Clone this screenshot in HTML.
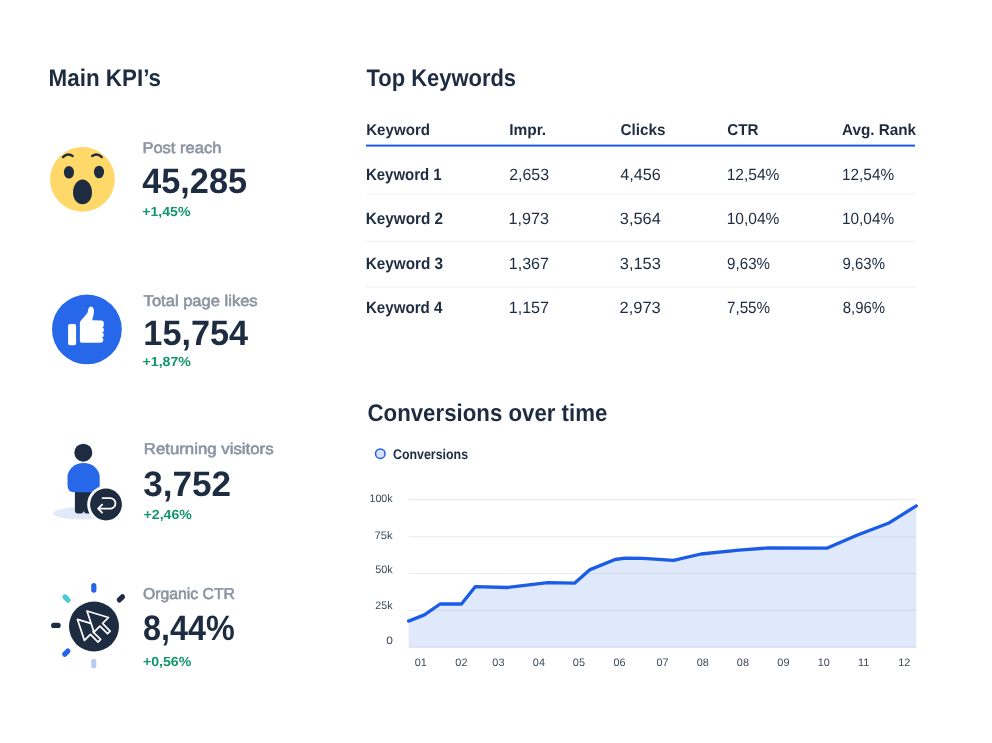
<!DOCTYPE html>
<html lang="en">
<head>
<meta charset="utf-8">
<title>Main KPI's and Top Keywords dashboard</title>
<style>
  html, body { margin: 0; padding: 0; background: #ffffff; }
  body { width: 992px; height: 743px; overflow: hidden; position: relative; }
  svg { display: block; position: absolute; left: 0; top: 0; will-change: transform; }
  text { font-family: "Liberation Sans", Arial, sans-serif; text-rendering: geometricPrecision; }
  .title { fill: #1e2c41; font-weight: 700; }
  .lbl { fill: #8a94a2; stroke: #8a94a2; stroke-width: 0.6px; }
  .big { fill: #1e2c41; font-weight: 700; }
  .grn { fill: #12966a; font-weight: 700; }
  .th { fill: #1e2c41; font-weight: 700; }
  .kw { fill: #1e2c41; font-weight: 700; }
  .td { fill: #1e2c41; }
  .ax { fill: #3e4a5b; font-size: 10.9px; }
  .leg { fill: #1e2c41; font-weight: 700; }

</style>
</head>
<body>
<svg width="992" height="743" viewBox="0 0 992 743">

  <!-- ============ LEFT: MAIN KPIs ============ -->

  <!-- KPI 1: Post reach (wow emoji) -->
  <g>
    <circle cx="82.4" cy="179.4" r="32.4" fill="#fed868"/>
    <path d="M63,157.1 Q67.7,152.6 72.6,156.1" fill="none" stroke="#1e2c41" stroke-width="2.4" stroke-linecap="round"/>
    <path d="M101.8,157.1 Q97.1,152.6 92.2,156.1" fill="none" stroke="#1e2c41" stroke-width="2.4" stroke-linecap="round"/>
    <ellipse cx="68.95" cy="172.2" rx="5.05" ry="6.3" fill="#1e2c41"/>
    <ellipse cx="99.0" cy="172.0" rx="5.05" ry="6.3" fill="#1e2c41"/>
    <path d="M82.5,179.5 C87.6,179.5 92,185.3 92,192.4 C92,199.2 87.8,204.2 82.5,204.2 C77.2,204.2 73,199.2 73,192.4 C73,185.3 77.4,179.5 82.5,179.5 Z" fill="#1e2c41"/>
  </g>

  <!-- KPI 2: Total page likes (thumb) -->
  <g>
    <circle cx="86.9" cy="329.4" r="34.9" fill="#2767ea"/>
    <rect x="68.1" y="323.9" width="8" height="21.4" rx="1.8" fill="#fff"/>
    <path d="M79.9,322.6 Q79.9,321.6 80.6,320.9 L87,313.6 Q87.7,312.6 87.9,311 L88.3,309 Q88.9,306.6 91,306.6 Q93.3,306.7 93.8,309.2 Q94.3,312 93.4,315.5 L92.2,320.3 L101.8,320.6 Q103.7,320.8 103.8,322.8 L103.8,325.4 Q103.9,326.8 102.1,327.2 Q103.9,327.6 103.9,329.4 L103.8,330.8 Q103.8,332.2 102.0,332.6 Q103.7,333 103.7,334.6 L103.6,335.8 Q103.6,337.3 101.9,337.7 Q103.4,338.2 103.4,339.5 L103.2,340.6 Q103.1,342.7 101,342.7 L81.6,342.7 Q79.9,342.7 79.9,341 Z" fill="#fff"/>
  </g>

  <!-- KPI 3: Returning visitors -->
  <g>
    <ellipse cx="83" cy="513.3" rx="30" ry="6.2" fill="#e2e9f9"/>
    <circle cx="83.3" cy="452.7" r="9" fill="#1e2c41"/>
    <path d="M74.9,489 L92,489 L92,510.3 Q92,513.6 88.9,513.6 L86.6,513.6 Q84.5,513.6 83.7,511.2 Q82.9,513.6 80.8,513.6 L78.1,513.6 Q74.9,513.6 74.9,510.3 Z" fill="#1e2c41"/>
    <path d="M67.5,477.5 A16.1,14.4 0 0 1 99.7,477.5 L99.7,485.3 Q99.7,492.3 92.7,492.3 L74.5,492.3 Q67.5,492.3 67.5,485.3 Z" fill="#2767ea"/>
    <circle cx="106" cy="504.5" r="18.8" fill="#fff"/>
    <circle cx="106" cy="504.5" r="15.9" fill="#1e2c41"/>
    <path d="M102.6,498.1 L110.2,498.1 A5.25,5.25 0 0 1 110.2,508.6 L98.1,508.6 M102.1,504.6 L98.1,508.6 L102.1,512.6" fill="none" stroke="#fff" stroke-width="1.8" stroke-linecap="round" stroke-linejoin="round"/>
  </g>

  <!-- KPI 4: Organic CTR -->
  <g>
    <g stroke-width="5.2" stroke-linecap="round" fill="none">
      <line x1="93.80" y1="585.65" x2="93.80" y2="590.05" stroke="#2563eb"/>
      <line x1="119.34" y1="599.96" x2="122.46" y2="596.84" stroke="#1e2c41"/>
      <line x1="64.94" y1="596.94" x2="68.06" y2="600.06" stroke="#4cc9d9"/>
      <line x1="53.70" y1="625.40" x2="58.10" y2="625.40" stroke="#1e2c41"/>
      <line x1="64.74" y1="654.16" x2="67.86" y2="651.04" stroke="#2563eb"/>
      <line x1="93.75" y1="661.40" x2="93.75" y2="665.80" stroke="#b7cdf4"/>
    </g>
    <circle cx="94" cy="626.5" r="25" fill="#1e2c41"/>
    <g fill="#1e2c41" stroke="#fff" stroke-width="1.75" stroke-linejoin="round">
      <path transform="translate(77.5 619.4) rotate(45)" d="M0,0 L19.8,-10.6 L19.8,-2.2 L30.5,-2.2 L30.5,1.5 L19.8,1.5 L19.8,10 Z"/>
      <path transform="translate(87.0 611.0) rotate(45)" d="M0,0 L19.8,-10.6 L19.8,-2.2 L30.5,-2.2 L30.5,1.5 L19.8,1.5 L19.8,10 Z"/>
    </g>
  </g>

  <!-- ============ RIGHT: TOP KEYWORDS ============ -->
  <rect x="366" y="144.6" width="549" height="2" fill="#1a5ce8"/>

  <rect x="366" y="193.7" width="550" height="1" fill="#f0f2f4"/>
  <rect x="366" y="240.8" width="550" height="1" fill="#f0f2f4"/>
  <rect x="366" y="286.6" width="550" height="1" fill="#f0f2f4"/>





  <!-- ============ RIGHT: CONVERSIONS CHART ============ -->
  <circle cx="380.3" cy="453.7" r="4.75" fill="#d5e1f9" stroke="#1f5fe8" stroke-width="1.5"/>

  <defs><clipPath id="fillclip"><path d="M408.6,621.1 L424.4,614.9 L440.1,604 L461.5,604 L475.2,586.7 L507,587.5 L547.7,582.7 L574.8,583.1 L590.1,569.6 L615.1,559.5 L625.2,558.1 L643.3,558.3 L673.5,560.4 L701,554 L738.9,550.2 L768.7,547.9 L826.8,548.2 L857.5,535 L888.3,523.3 L916.3,505.9 L916.3,647.7 L408.6,647.7 Z"/></clipPath></defs>
  <g fill="#eaecee">
    <rect x="408.6" y="499.1" width="507.7" height="1.2"/>
    <rect x="408.6" y="536.2" width="507.7" height="1.2"/>
    <rect x="408.6" y="572.9" width="507.7" height="1.2"/>
    <rect x="408.6" y="609.8" width="507.7" height="1.2"/>
  </g>

  <path d="M408.6,621.1 L424.4,614.9 L440.1,604 L461.5,604 L475.2,586.7 L507,587.5 L547.7,582.7 L574.8,583.1 L590.1,569.6 L615.1,559.5 L625.2,558.1 L643.3,558.3 L673.5,560.4 L701,554 L738.9,550.2 L768.7,547.9 L826.8,548.2 L857.5,535 L888.3,523.3 L916.3,505.9 L916.3,647.7 L408.6,647.7 Z" fill="#e0e9fc"/>
  <g fill="#d3dbe9" clip-path="url(#fillclip)">
    <rect x="408.6" y="536.2" width="507.7" height="1.2"/>
    <rect x="408.6" y="572.9" width="507.7" height="1.2"/>
    <rect x="408.6" y="609.8" width="507.7" height="1.2"/>
    <rect x="408.6" y="646.5" width="507.7" height="1.2"/>
  </g>
  <path d="M408.6,621.1 L424.4,614.9 L440.1,604 L461.5,604 L475.2,586.7 L507,587.5 L547.7,582.7 L574.8,583.1 L590.1,569.6 L615.1,559.5 L625.2,558.1 L643.3,558.3 L673.5,560.4 L701,554 L738.9,550.2 L768.7,547.9 L826.8,548.2 L857.5,535 L888.3,523.3 L916.3,505.9" fill="none" stroke="#1a5ce8" stroke-width="3.3" stroke-linecap="round" stroke-linejoin="round"/>
  <g class="ax" text-anchor="middle">
    <text x="420.7" y="665.8">01</text>
    <text x="461.4" y="665.8">02</text>
    <text x="498.4" y="665.8">03</text>
    <text x="538.9" y="665.8">04</text>
    <text x="578.9" y="665.8">05</text>
    <text x="619.5" y="665.8">06</text>
    <text x="662.5" y="665.8">07</text>
    <text x="702.8" y="665.8">08</text>
    <text x="742.9" y="665.8">08</text>
    <text x="783.4" y="665.8">09</text>
    <text x="823.8" y="665.8">10</text>
    <text x="863.7" y="665.8">11</text>
    <text x="904.2" y="665.8">12</text>
  </g>

  <text id="t1" class="title" x="48.58" y="85.80" font-size="24.0" textLength="112.44" lengthAdjust="spacingAndGlyphs">Main KPI’s</text>
  <text id="t2" class="title" x="366.45" y="86.00" font-size="24.0" textLength="149.65" lengthAdjust="spacingAndGlyphs">Top Keywords</text>
  <text id="t3" class="title" x="367.49" y="420.70" font-size="24.0" textLength="239.88" lengthAdjust="spacingAndGlyphs">Conversions over time</text>
  <text id="l1" class="lbl" x="142.40" y="152.90" font-size="15.6" textLength="79.02" lengthAdjust="spacingAndGlyphs">Post reach</text>
  <text id="l2" class="lbl" x="143.64" y="305.70" font-size="15.6" textLength="114.00" lengthAdjust="spacingAndGlyphs">Total page likes</text>
  <text id="l3" class="lbl" x="143.79" y="454.40" font-size="15.6" textLength="129.77" lengthAdjust="spacingAndGlyphs">Returning visitors</text>
  <text id="l4" class="lbl" x="143.04" y="599.40" font-size="15.6" textLength="91.96" lengthAdjust="spacingAndGlyphs">Organic CTR</text>
  <text id="b1" class="big" x="142.17" y="192.90" font-size="35.3" textLength="104.89" lengthAdjust="spacingAndGlyphs">45,285</text>
  <text id="b2" class="big" x="143.36" y="344.60" font-size="35.3" textLength="104.80" lengthAdjust="spacingAndGlyphs">15,754</text>
  <text id="b3" class="big" x="143.21" y="496.20" font-size="35.3" textLength="87.89" lengthAdjust="spacingAndGlyphs">3,752</text>
  <text id="b4" class="big" x="143.09" y="640.20" font-size="35.3" textLength="91.77" lengthAdjust="spacingAndGlyphs">8,44%</text>
  <text id="g1" class="grn" x="142.32" y="215.50" font-size="13.2" textLength="48.15" lengthAdjust="spacingAndGlyphs">+1,45%</text>
  <text id="g2" class="grn" x="142.59" y="366.30" font-size="13.2" textLength="48.33" lengthAdjust="spacingAndGlyphs">+1,87%</text>
  <text id="g3" class="grn" x="143.64" y="519.40" font-size="13.2" textLength="48.18" lengthAdjust="spacingAndGlyphs">+2,46%</text>
  <text id="g4" class="grn" x="142.93" y="666.20" font-size="13.2" textLength="48.28" lengthAdjust="spacingAndGlyphs">+0,56%</text>
  <text id="h1" class="th" x="366.19" y="135.20" font-size="15.8" textLength="63.88" lengthAdjust="spacingAndGlyphs">Keyword</text>
  <text id="h2" class="th" x="509.16" y="135.20" font-size="15.8" textLength="36.99" lengthAdjust="spacingAndGlyphs">Impr.</text>
  <text id="h3" class="th" x="620.38" y="135.20" font-size="15.8" textLength="45.16" lengthAdjust="spacingAndGlyphs">Clicks</text>
  <text id="h4" class="th" x="727.32" y="135.20" font-size="15.8" textLength="31.28" lengthAdjust="spacingAndGlyphs">CTR</text>
  <text id="h5" class="th" x="841.97" y="135.20" font-size="15.8" textLength="74.13" lengthAdjust="spacingAndGlyphs">Avg. Rank</text>
  <text id="r1a" class="kw" x="365.90" y="179.70" font-size="16.5" textLength="75.78" lengthAdjust="spacingAndGlyphs">Keyword 1</text>
  <text id="r1b" class="td" x="509.15" y="179.70" font-size="16.2" textLength="39.90" lengthAdjust="spacingAndGlyphs">2,653</text>
  <text id="r1c" class="td" x="620.25" y="179.70" font-size="16.2" textLength="40.46" lengthAdjust="spacingAndGlyphs">4,456</text>
  <text id="r1d" class="td" x="726.65" y="179.70" font-size="16.2" textLength="52.75" lengthAdjust="spacingAndGlyphs">12,54%</text>
  <text id="r1e" class="td" x="842.03" y="179.70" font-size="16.2" textLength="52.06" lengthAdjust="spacingAndGlyphs">12,54%</text>
  <text id="r2a" class="kw" x="365.79" y="224.10" font-size="16.5" textLength="77.35" lengthAdjust="spacingAndGlyphs">Keyword 2</text>
  <text id="r2b" class="td" x="508.59" y="224.10" font-size="16.2" textLength="40.40" lengthAdjust="spacingAndGlyphs">1,973</text>
  <text id="r2c" class="td" x="619.78" y="224.10" font-size="16.2" textLength="41.10" lengthAdjust="spacingAndGlyphs">3,564</text>
  <text id="r2d" class="td" x="726.65" y="224.10" font-size="16.2" textLength="52.75" lengthAdjust="spacingAndGlyphs">10,04%</text>
  <text id="r2e" class="td" x="842.03" y="224.10" font-size="16.2" textLength="52.06" lengthAdjust="spacingAndGlyphs">10,04%</text>
  <text id="r3a" class="kw" x="365.79" y="268.70" font-size="16.5" textLength="77.32" lengthAdjust="spacingAndGlyphs">Keyword 3</text>
  <text id="r3b" class="td" x="508.70" y="268.70" font-size="16.2" textLength="40.34" lengthAdjust="spacingAndGlyphs">1,367</text>
  <text id="r3c" class="td" x="619.77" y="268.70" font-size="16.2" textLength="41.10" lengthAdjust="spacingAndGlyphs">3,153</text>
  <text id="r3d" class="td" x="727.12" y="268.70" font-size="16.2" textLength="42.90" lengthAdjust="spacingAndGlyphs">9,63%</text>
  <text id="r3e" class="td" x="842.55" y="268.70" font-size="16.2" textLength="42.46" lengthAdjust="spacingAndGlyphs">9,63%</text>
  <text id="r4a" class="kw" x="365.89" y="313.40" font-size="16.5" textLength="76.62" lengthAdjust="spacingAndGlyphs">Keyword 4</text>
  <text id="r4b" class="td" x="508.70" y="313.40" font-size="16.2" textLength="40.34" lengthAdjust="spacingAndGlyphs">1,157</text>
  <text id="r4c" class="td" x="619.62" y="313.40" font-size="16.2" textLength="41.17" lengthAdjust="spacingAndGlyphs">2,973</text>
  <text id="r4d" class="td" x="726.95" y="313.40" font-size="16.2" textLength="43.20" lengthAdjust="spacingAndGlyphs">7,55%</text>
  <text id="r4e" class="td" x="842.68" y="313.40" font-size="16.2" textLength="42.39" lengthAdjust="spacingAndGlyphs">8,96%</text>
  <text id="lg" class="leg" x="392.98" y="459.20" font-size="14.0" textLength="75.11" lengthAdjust="spacingAndGlyphs">Conversions</text>
  <text id="y1" class="ax" x="369.48" y="502.30" font-size="10.9" textLength="23.10" lengthAdjust="spacingAndGlyphs">100k</text>
  <text id="y2" class="ax" x="374.41" y="538.50" font-size="10.9" textLength="18.18" lengthAdjust="spacingAndGlyphs">75k</text>
  <text id="y3" class="ax" x="375.15" y="572.70" font-size="10.9" textLength="17.59" lengthAdjust="spacingAndGlyphs">50k</text>
  <text id="y4" class="ax" x="375.29" y="608.90" font-size="10.9" textLength="17.25" lengthAdjust="spacingAndGlyphs">25k</text>
  <text id="y5" class="ax" x="386.20" y="644.10" font-size="10.9" textLength="6.64" lengthAdjust="spacingAndGlyphs">0</text>
</svg>
</body>
</html>
